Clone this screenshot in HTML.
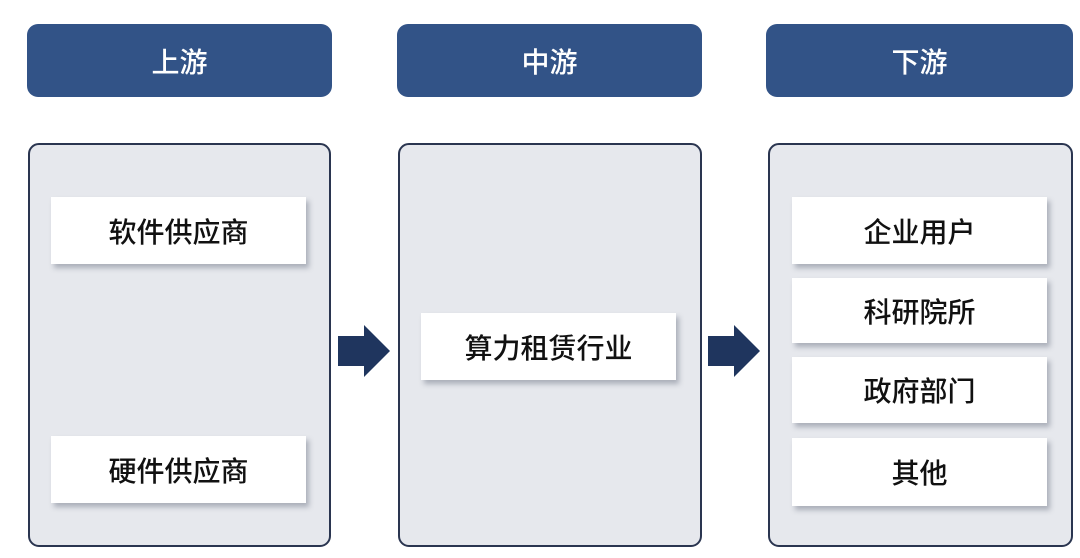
<!DOCTYPE html>
<html><head><meta charset="utf-8"><style>
body{margin:0;width:1080px;height:558px;background:#fff;position:relative;overflow:hidden;font-family:"Liberation Sans","Noto Sans CJK SC",sans-serif}
.h{position:absolute;top:24px;height:73px;background:#325387;border-radius:11px;color:#fff;font-size:28px;font-weight:500;display:flex;align-items:center;justify-content:center;padding-top:1px;box-sizing:border-box}
.p{position:absolute;top:143px;height:404px;background:#e6e8ed;border:2px solid #2a3550;border-radius:11px;box-sizing:border-box}
.b{position:absolute;background:#fff;height:67px;width:255px;box-shadow:3px 4px 5px rgba(60,70,90,.35);font-size:28px;font-weight:500;color:#111;display:flex;align-items:center;justify-content:center}
.a{position:absolute;top:325px;width:52px;height:52px}
</style></head><body>
<div class="h" style="left:27px;width:305px">上游</div>
<div class="h" style="left:397px;width:305px">中游</div>
<div class="h" style="left:766px;width:307px">下游</div>
<div class="p" style="left:28px;width:303px"></div>
<div class="p" style="left:398px;width:304px"></div>
<div class="p" style="left:768px;width:305px"></div>
<div class="b" style="left:51px;top:197px">软件供应商</div>
<div class="b" style="left:51px;top:436px">硬件供应商</div>
<div class="b" style="left:421px;top:313px">算力租赁行业</div>
<div class="b" style="left:792px;top:197px">企业用户</div>
<div class="b" style="left:792px;top:278px;height:65px">科研院所</div>
<div class="b" style="left:792px;top:357px;height:66px">政府部门</div>
<div class="b" style="left:792px;top:438px;height:68px">其他</div>
<svg class="a" style="left:338px" viewBox="0 0 52 52"><polygon points="0,11 26,11 26,0 52,26 26,52 26,41 0,41" fill="#1f355e"/></svg>
<svg class="a" style="left:708px" viewBox="0 0 52 52"><polygon points="0,11 26,11 26,0 52,26 26,52 26,41 0,41" fill="#1f355e"/></svg>
</body></html>
